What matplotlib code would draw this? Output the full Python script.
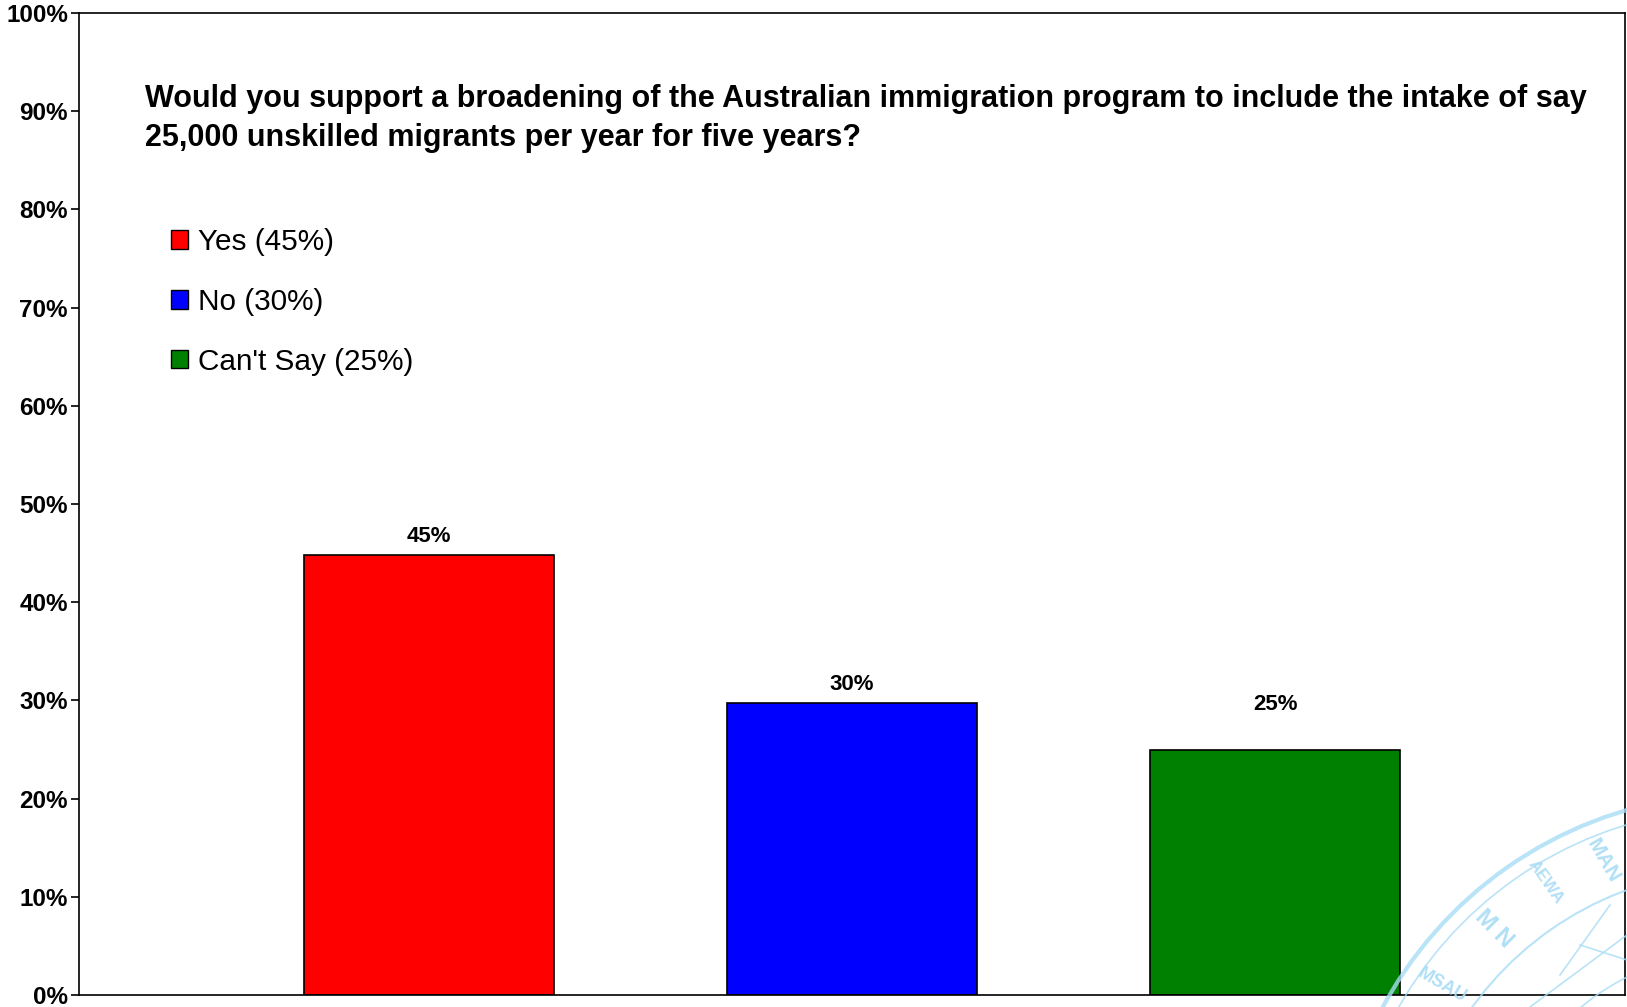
import numpy as np
import matplotlib
matplotlib.use('Agg')
import matplotlib.pyplot as plt
from matplotlib.patches import Patch, Arc

plt.rcParams['font.family'] = ['Liberation Sans', 'DejaVu Sans']

categories = ['Yes', 'No', "Can't Say"]
values = [44.8, 29.7, 25.0]
yticks = [0, 10, 20, 30, 40, 50, 60, 70, 80, 90, 100]
colors = ['#ff0000', '#0000ff', '#008000']
label_pad = [6, 6, 25]  # points above each bar, as placed in the original
title = ('Would you support a broadening of the Australian immigration program to include the intake of say\n'
         '25,000 unskilled migrants per year for five years?')

W, H = 1627, 1007
fig = plt.figure(figsize=(W / 100, H / 100), dpi=100)
ax = fig.add_axes([79 / W, 1 - 995 / H, (1625 - 79) / W, (995 - 13) / H])

x = np.arange(len(categories))
bars = ax.bar(x, values, width=0.59, color=colors, edgecolor='black', linewidth=1.2, zorder=2)

for b, v, p in zip(bars, values, label_pad):
    ax.annotate(f'{round(v)}%', (b.get_x() + b.get_width() / 2, v), xytext=(0, p),
                textcoords='offset points', ha='center', va='bottom',
                fontsize=16, fontweight='bold')

ax.set_xlim(-0.826, 2.826)
ax.set_ylim(0, 100)
ax.set_xticks([])
ax.set_yticks(yticks)
ax.set_yticklabels([f'{t}%' for t in yticks], fontsize=17.5, fontweight='bold')
ax.tick_params(axis='y', length=6, width=1.2, pad=2)
for s in ax.spines.values():
    s.set_linewidth(1.2)

# title inside the plot box
ax.text(145 / W, 1 - 118.6 / H, title, transform=fig.transFigure, ha='left', va='center',
        fontsize=22, fontweight='bold', linespacing=1.40)

# legend
handles = [Patch(facecolor=c, edgecolor='black', linewidth=1, label=f'{cat} ({round(v)}%)')
           for cat, v, c in zip(categories, values, colors)]
ax.legend(handles=handles, loc='upper left', bbox_to_anchor=(171 / W, 1 - 228 / H),
          bbox_transform=fig.transFigure, frameon=False, fontsize=21.4,
          borderpad=0, borderaxespad=0,
          handlelength=0.58, handleheight=0.58, handletextpad=0.32, labelspacing=1.07)

# faint stamp watermark in the lower right corner
ov = fig.add_axes([0, 0, 1, 1], zorder=5)
ov.set_xlim(0, W)
ov.set_ylim(H, 0)
ov.axis('off')
ov.patch.set_alpha(0)
stamp = '#a8dcf5'
cx, cy = 1740, 1200
for r, lw in [(406, 3), (392, 1.2), (330, 1.5), (250, 1.2)]:
    ov.add_patch(Arc((cx, cy), 2 * r, 2 * r, theta1=180, theta2=290, color=stamp, lw=lw, alpha=0.8))
ov.text(1603, 861, 'MAN', rotation=-60, color=stamp, fontsize=15, fontweight='bold',
        ha='center', va='center', alpha=0.9)
ov.text(1546, 882, 'AEWA', rotation=-55, color=stamp, fontsize=12, fontweight='bold',
        ha='center', va='center', alpha=0.9)
ov.text(1494, 929, 'M N', rotation=-45, color=stamp, fontsize=17, fontweight='bold',
        ha='center', va='center', alpha=0.9)
ov.text(1442, 985, 'MSAU', rotation=-30, color=stamp, fontsize=13, fontweight='bold',
        ha='center', va='center', alpha=0.9)
ov.plot([1560, 1610], [975, 905], color=stamp, lw=1.2, alpha=0.8)
ov.plot([1530, 1627], [1007, 935], color=stamp, lw=1.2, alpha=0.8)
ov.plot([1580, 1627], [945, 960], color=stamp, lw=1.2, alpha=0.8)

fig.savefig('out.png', dpi=100)
